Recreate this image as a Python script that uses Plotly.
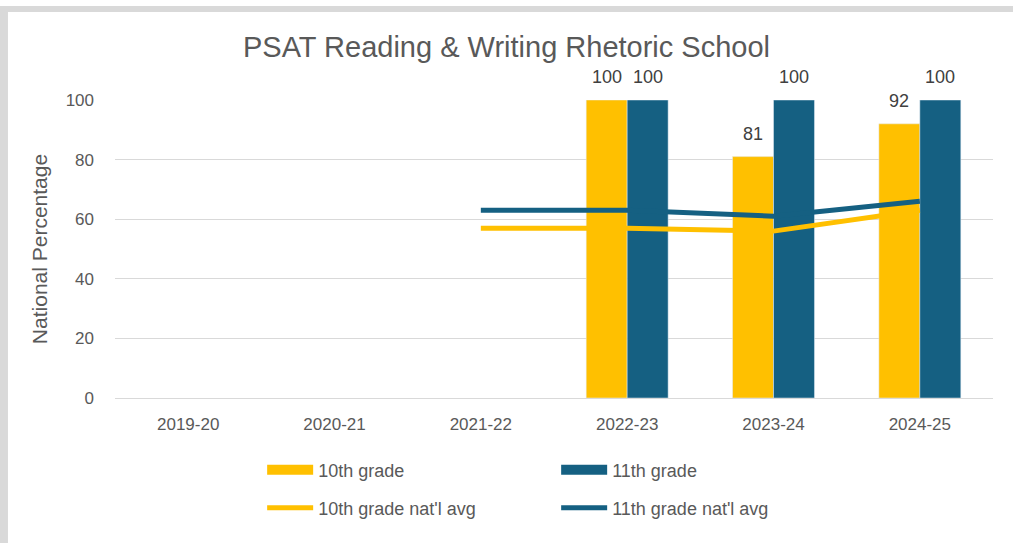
import plotly.graph_objects as go

# data
years = ["2019-20", "2020-21", "2021-22", "2022-23", "2023-24", "2024-25"]
grade10 = [None, None, None, 100, 81, 92]
grade11 = [None, None, None, 100, 100, 100]
grade10_avg = [None, None, 57, 57, 56, 63]
grade11_avg = [None, None, 63, 63, 61, 66]

YELLOW = "#FFC000"
BLUE = "#156082"
GREY_TXT = "#595959"
FONT = "Liberation Sans, Arial, sans-serif"

fig = go.Figure()

fig.add_trace(go.Bar(x=years, y=grade10, name="10th grade", marker_color=YELLOW,
                     showlegend=False))
fig.add_trace(go.Bar(x=years, y=grade11, name="11th grade", marker_color=BLUE,
                     showlegend=False))
fig.add_trace(go.Scatter(x=years, y=grade10_avg, mode="lines", name="10th grade nat'l avg",
                         line=dict(color=YELLOW, width=5), legend="legend2"))
fig.add_trace(go.Scatter(x=years, y=grade11_avg, mode="lines", name="11th grade nat'l avg",
                         line=dict(color=BLUE, width=5), legend="legend2"))

# legend swatches for the bars (wide rectangles like the original)
fig.add_trace(go.Scatter(x=[None], y=[None], mode="lines", name="10th grade",
                         line=dict(color=YELLOW, width=11), legend="legend"))
fig.add_trace(go.Scatter(x=[None], y=[None], mode="lines", name="11th grade",
                         line=dict(color=BLUE, width=11), legend="legend"))

# data labels above bars
for vals, shift in [(grade10, -20.5), (grade11, 20.5)]:
    for yr, v in zip(years, vals):
        if v is None:
            continue
        fig.add_annotation(x=yr, y=v, text=str(v), showarrow=False, xshift=shift,
                           yshift=23, yanchor="middle",
                           font=dict(size=18, color="#404040", family=FONT))

# light grey frame on top / left edges
fig.add_shape(type="rect", xref="paper", yref="paper", x0=-0.131, x1=-0.1219,
              y0=-0.49, y1=1.3154, fillcolor="#d9d9d9", line_width=0, layer="below")
fig.add_shape(type="rect", xref="paper", yref="paper", x0=-0.131, x1=1.03,
              y0=1.2953, y1=1.3154, fillcolor="#d9d9d9", line_width=0, layer="below")

leg = dict(orientation="h", entrywidth=233, entrywidthmode="pixels", itemwidth=46,
           xanchor="left", yanchor="middle", bgcolor="rgba(0,0,0,0)",
           font=dict(size=18, color=GREY_TXT, family=FONT))

fig.update_layout(
    width=1013, height=543,
    margin=dict(l=115, r=20, t=100, b=145),
    paper_bgcolor="white", plot_bgcolor="white",
    font=dict(family=FONT, color=GREY_TXT),
    title=dict(text="PSAT Reading & Writing Rhetoric School", x=0.5, xanchor="center",
               y=0.913, yanchor="middle", font=dict(size=29, color=GREY_TXT, family=FONT)),
    barmode="group", bargap=0.44, bargroupgap=0,
    legend=dict(leg, x=0.1676, y=-0.2416),
    legend2=dict(leg, x=0.1676, y=-0.369),
    xaxis=dict(tickfont=dict(size=17, color=GREY_TXT), showgrid=False, showline=False,
               ticks="", ticklabelstandoff=14, fixedrange=True),
    yaxis=dict(range=[0, 100], dtick=20, tickfont=dict(size=17, color=GREY_TXT),
               gridcolor="#d9d9d9", gridwidth=1.3, zeroline=True, zerolinecolor="#d9d9d9",
               zerolinewidth=1.3, ticklabelstandoff=20, fixedrange=True,
               title=dict(text="National Percentage", standoff=12,
                          font=dict(size=21, color=GREY_TXT))),
)

# drop the browser's default page margin so the figure sits at the window corner
fig.write_html("out.html", config={"displayModeBar": False},
               post_script="document.body.style.margin='0';")
